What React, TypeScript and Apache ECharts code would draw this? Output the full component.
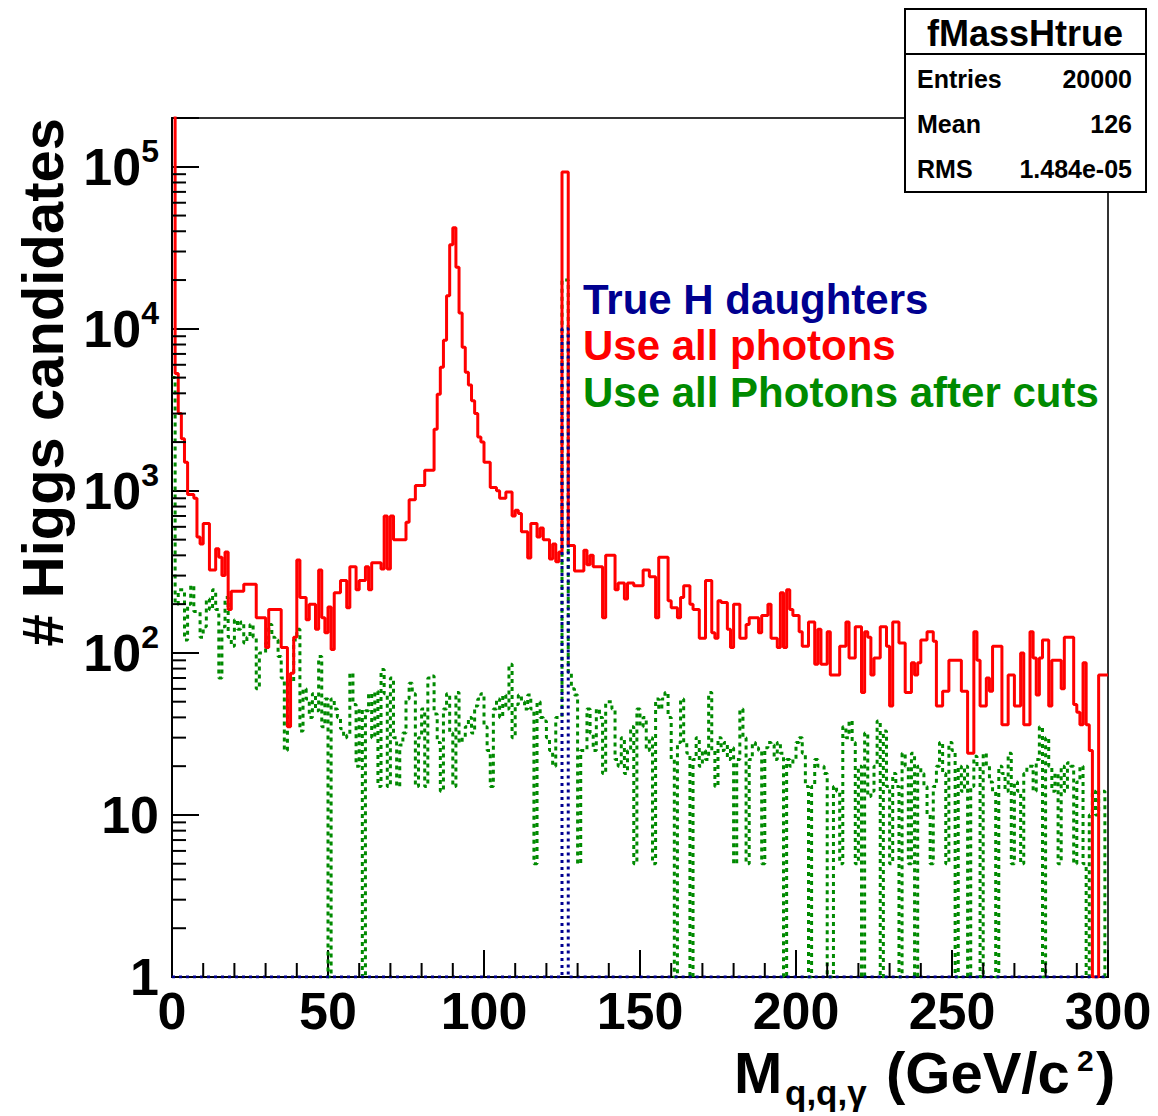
import React, { useEffect, useRef } from "react";
import * as echarts from "echarts";

// ---------------- data ----------------
const X_MIN = 0;
const X_MAX = 300;
const BIN_WIDTH = 1;
const Y_MIN = 1;
const Y_MAX = 200000;

const X_MAJOR_TICK_STEP = 50;
const X_MINOR_TICKS = [
  10, 20, 30, 40, 60, 70, 80, 90, 110, 120, 130, 140, 160, 170, 180, 190,
  210, 220, 230, 240, 260, 270, 280, 290,
];
const Y_MINOR_TICKS = [
  2, 3, 4, 5, 6, 7, 8, 9,
  20, 30, 40, 50, 60, 70, 80, 90,
  200, 300, 400, 500, 600, 700, 800, 900,
  2000, 3000, 4000, 5000, 6000, 7000, 8000, 9000,
  20000, 30000, 40000, 50000, 60000, 70000, 80000, 90000,
];

// "Use all photons" : counts per 1 GeV bin, 0..300
const RED_COUNTS = [
  300000, 5300, 3000, 2100, 1500, 950, 950, 900, 520, 470,
  630, 630, 325, 325, 440, 390, 300, 420, 185, 240,
  240, 240, 240, 265, 265, 265, 265, 165, 165, 165,
  108, 185, 185, 185, 185, 108, 108, 35, 75, 125,
  375, 220, 220, 160, 200, 200, 140, 325, 165, 133,
  192, 105, 235, 235, 280, 280, 190, 340, 340, 245,
  280, 280, 340, 245, 360, 360, 360, 330, 700, 330,
  700, 500, 500, 500, 500, 640, 880, 880, 1080, 1080,
  1080, 1340, 1340, 1340, 2400, 3950, 5800, 8500, 16000, 33000,
  42000, 24000, 12500, 7700, 5400, 4500, 3600, 3000, 2150, 2000,
  1500, 1500, 1050, 1050, 1000, 900, 900, 985, 985, 700,
  760, 725, 560, 560, 385, 630, 630, 520, 590, 500,
  500, 380, 470, 365, 420, 93000, 93000, 460, 460, 320,
  320, 320, 430, 350, 400, 340, 340, 340, 165, 400,
  400, 400, 245, 270, 270, 215, 270, 270, 260, 260,
  260, 325, 325, 295, 295, 165, 390, 390, 390, 210,
  190, 190, 165, 220, 260, 260, 200, 185, 185, 123,
  123, 280, 280, 133, 123, 210, 205, 205, 140, 108,
  200, 200, 123, 123, 150, 165, 165, 165, 133, 170,
  170, 200, 123, 123, 108, 235, 108, 245, 185, 170,
  170, 135, 110, 110, 155, 155, 85, 140, 85, 85,
  135, 73, 73, 73, 110, 110, 155, 93, 93, 145,
  145, 57, 135, 125, 73, 93, 93, 145, 145, 110,
  47, 155, 155, 115, 115, 57, 57, 87, 73, 87,
  120, 120, 135, 135, 118, 47, 47, 58, 58, 90,
  90, 90, 90, 58, 58, 24, 24, 135, 90, 47,
  47, 70, 58, 110, 110, 110, 36, 36, 73, 73,
  47, 47, 100, 36, 36, 135, 93, 55, 93, 120,
  120, 47, 90, 90, 90, 60, 125, 125, 125, 48,
  43, 36, 87, 36, 25, 0, 0, 73, 73, 73,
];

// "Use all Photons after cuts"
const GREEN_COUNTS = [
  5000, 200, 245, 245, 120, 200, 260, 180, 180, 125,
  145, 215, 185, 245, 185, 70, 145, 220, 125, 110,
  160, 140, 155, 115, 125, 150, 125, 60, 100, 100,
  115, 150, 125, 120, 95, 70, 25, 68, 66, 120,
  140, 33, 60, 52, 40, 56, 44, 95, 35, 52,
  0, 52, 45, 40, 34, 30, 31, 75, 48, 20,
  45, 0, 44, 56, 30, 58, 15, 79, 56, 15,
  70, 30, 15, 27, 32, 52, 65, 56, 15, 30,
  45, 15, 70, 72, 42, 28, 14, 45, 56, 32,
  15, 57, 28, 30, 35, 40, 32, 47, 52, 56,
  35, 25, 15, 45, 52, 40, 55, 45, 85, 30,
  48, 55, 50, 45, 55, 45, 5, 50, 40, 38,
  30, 25, 20, 40, 40, 20000, 20000, 76, 60, 55,
  5, 25, 25, 45, 32, 25, 45, 40, 18, 50,
  50, 45, 22, 20, 30, 18, 25, 35, 5, 45,
  35, 40, 25, 30, 5, 52, 45, 52, 57, 40,
  22, 0, 28, 52, 28, 24, 0, 22, 30, 20,
  25, 22, 57, 25, 15, 30, 25, 28, 22, 26,
  5, 22, 45, 30, 5, 22, 28, 26, 25, 5,
  26, 28, 27, 22, 28, 24, 0, 22, 20, 22,
  28, 30, 24, 15, 0, 15, 22, 20, 20, 18,
  0, 0, 15, 14, 5, 35, 30, 38, 28, 5,
  20, 0, 32, 13, 14, 20, 38, 0, 33, 15,
  5, 18, 15, 0, 24, 20, 5, 24, 0, 20,
  18, 15, 10, 5, 15, 20, 28, 18, 5, 28,
  25, 0, 20, 14, 20, 0, 15, 23, 20, 0,
  24, 20, 16, 14, 0, 20, 18, 14, 24, 5,
  16, 14, 5, 18, 20, 20, 14, 22, 35, 0,
  30, 20, 14, 18, 5, 20, 14, 21, 20, 5,
  16, 20, 5, 0, 10, 14, 10, 14, 14, 0,
];

// "True H daughters": empty everywhere except the peak bins
const BLUE_PEAK_BINS = [125, 126];
const BLUE_PEAK_COUNTS = [10000, 10000];

const STATS_TITLE = "fMassHtrue";
const STATS_ROWS = [
  ["Entries", "20000"],
  ["Mean", "126"],
  ["RMS", "1.484e-05"],
];

const LEGEND_TEXTS = ["True H daughters", "Use all photons", "Use all Photons after cuts"];

// ---------------- styles ----------------
const FONT = '"Liberation Sans", Arial, Helvetica, sans-serif';
const C_RED = "#ff0000";
const C_GREEN = "#008a00";
const C_BLUE = "#000090";

const GRID = { left: 172, top: 118, right: 1108, bottom: 977 };

function blueCounts(): number[] {
  const arr = RED_COUNTS.map(() => 0);
  BLUE_PEAK_BINS.forEach((b, k) => {
    arr[b] = BLUE_PEAK_COUNTS[k];
  });
  return arr;
}

// histogram outline as step points (empty bins sit on the frame bottom, like ROOT log plots)
function stepPoints(counts: number[]): number[][] {
  const pts: number[][] = [];
  counts.forEach((c, i) => {
    const v = c > Y_MIN ? c : Y_MIN;
    const x0 = X_MIN + i * BIN_WIDTH;
    pts.push([x0, v], [x0 + BIN_WIDTH, v]);
  });
  return pts;
}

function yLabel(v: number): string {
  const e = Math.round(Math.log10(v));
  if (Math.abs(v - Math.pow(10, e)) > 1e-6 * v) return "";
  if (e === 0) return "{b|1}";
  if (e === 1) return "{b|10}";
  return "{b|10}{s|" + e + "}";
}

export default function App() {
  const ref = useRef<HTMLDivElement>(null);

  useEffect(() => {
    if (!ref.current) return;
    const chart = echarts.init(ref.current, undefined, { renderer: "svg" });

    const statsGraphics: any[] = [
      {
        type: "rect",
        shape: { x: 905, y: 9, width: 241, height: 183 },
        style: { fill: "#fff", stroke: "#000", lineWidth: 2 },
      },
      {
        type: "line",
        shape: { x1: 905, y1: 54, x2: 1146, y2: 54 },
        style: { stroke: "#000", lineWidth: 2 },
      },
      {
        type: "text",
        x: 1025,
        y: 33,
        style: {
          text: STATS_TITLE,
          fontFamily: FONT,
          fontWeight: "bold",
          fontSize: 36,
          fill: "#000",
          align: "center",
          verticalAlign: "middle",
        },
      },
    ];
    STATS_ROWS.forEach((row, k) => {
      const y = 79 + k * 45;
      statsGraphics.push(
        {
          type: "text",
          x: 917,
          y,
          style: { text: row[0], fontFamily: FONT, fontWeight: "bold", fontSize: 25, fill: "#000", align: "left", verticalAlign: "middle" },
        },
        {
          type: "text",
          x: 1132,
          y,
          style: { text: row[1], fontFamily: FONT, fontWeight: "bold", fontSize: 25, fill: "#000", align: "right", verticalAlign: "middle" },
        }
      );
    });

    const legendColors = [C_BLUE, C_RED, C_GREEN];
    const legendGraphics = LEGEND_TEXTS.map((t, k) => ({
      type: "text",
      x: 583,
      y: 299 + k * 46.5,
      style: { text: t, fontFamily: FONT, fontWeight: "bold", fontSize: 42, fill: legendColors[k], align: "left", verticalAlign: "middle" },
    }));

    const titleStyle = { fontFamily: FONT, fontWeight: "bold", fill: "#000", align: "left", verticalAlign: "middle" };
    const xTitle = [
      { type: "text", x: 734, y: 1072, style: { ...titleStyle, text: "M", fontSize: 58 } },
      { type: "text", x: 785, y: 1092, style: { ...titleStyle, text: "q,q,γ", fontSize: 35 } },
      { type: "text", x: 886, y: 1072, style: { ...titleStyle, text: "(GeV/c", fontSize: 58 } },
      { type: "text", x: 1077, y: 1060, style: { ...titleStyle, text: "2", fontSize: 30 } },
      { type: "text", x: 1096, y: 1072, style: { ...titleStyle, text: ")", fontSize: 58 } },
    ];

    const yTitle = {
      type: "text",
      x: 42,
      y: 118,
      rotation: Math.PI / 2,
      style: { ...titleStyle, text: "# Higgs candidates", fontSize: 58, align: "right" },
    };

    const option: any = {
      animation: false,
      backgroundColor: "#fff",
      grid: {
        left: GRID.left,
        top: GRID.top,
        width: GRID.right - GRID.left,
        height: GRID.bottom - GRID.top,
        containLabel: false,
        outerBoundsMode: "none",
        show: true,
        borderColor: "#333",
        borderWidth: 2,
        backgroundColor: "transparent",
      },
      xAxis: {
        type: "value",
        min: X_MIN,
        max: X_MAX,
        interval: X_MAJOR_TICK_STEP,
        splitLine: { show: false },
        axisLine: { show: true, onZero: false, lineStyle: { color: "#000", width: 2 } },
        axisTick: { show: true, inside: true, length: 27, lineStyle: { color: "#000", width: 2 } },
        minorTick: { show: false },
        axisLabel: {
          show: true,
          margin: 8,
          color: "#000",
          fontFamily: FONT,
          fontWeight: "bold",
          fontSize: 52,
          showMinLabel: true,
          showMaxLabel: true,
          hideOverlap: false,
        },
      },
      yAxis: {
        type: "log",
        logBase: 10,
        min: Y_MIN,
        max: Y_MAX,
        splitLine: { show: false },
        axisLine: { show: true, onZero: false, lineStyle: { color: "#000", width: 2 } },
        axisTick: { show: true, inside: true, length: 27, lineStyle: { color: "#000", width: 2 } },
        minorTick: { show: false },
        axisLabel: {
          show: true,
          margin: 13,
          color: "#000",
          formatter: yLabel,
          showMinLabel: true,
          showMaxLabel: true,
          hideOverlap: false,
          rich: {
            b: { fontFamily: FONT, fontWeight: "bold", fontSize: 52, color: "#000", lineHeight: 64, verticalAlign: "bottom", padding: [0, 0, 6, 0] },
            s: { fontFamily: FONT, fontWeight: "bold", fontSize: 32, color: "#000", lineHeight: 30, verticalAlign: "top" },
          },
        },
      },
      series: [
        {
          name: LEGEND_TEXTS[2],
          type: "line",
          data: stepPoints(GREEN_COUNTS),
          showSymbol: false,
          symbol: "none",
          z: 3,
          lineStyle: { color: C_GREEN, width: 3, type: [4, 4], cap: "butt" },
        },
        {
          name: LEGEND_TEXTS[1],
          type: "line",
          data: stepPoints(RED_COUNTS),
          showSymbol: false,
          symbol: "none",
          z: 4,
          lineStyle: { color: C_RED, width: 3 },
        },
        {
          name: LEGEND_TEXTS[0],
          type: "line",
          data: stepPoints(blueCounts()),
          showSymbol: false,
          symbol: "none",
          z: 5,
          lineStyle: { color: C_BLUE, width: 3, type: [3, 4], cap: "butt" },
        },
        {
          type: "custom",
          silent: true,
          z: 6,
          clip: false,
          data: Y_MINOR_TICKS.map((v) => [X_MIN, v]),
          renderItem: (_p: any, api: any) => {
            const p = api.coord([api.value(0), api.value(1)]);
            return {
              type: "line",
              shape: { x1: p[0], y1: p[1], x2: p[0] + 14, y2: p[1] },
              style: { stroke: "#000", lineWidth: 2 },
            };
          },
        },
        {
          type: "custom",
          silent: true,
          z: 6,
          clip: false,
          data: X_MINOR_TICKS.map((v) => [v, Y_MIN]),
          renderItem: (_p: any, api: any) => {
            const p = api.coord([api.value(0), api.value(1)]);
            return {
              type: "line",
              shape: { x1: p[0], y1: p[1], x2: p[0], y2: p[1] - 14 },
              style: { stroke: "#000", lineWidth: 2 },
            };
          },
        },
      ],
      graphic: [
        { type: "group", z: 100, children: statsGraphics },
        { type: "group", z: 90, children: legendGraphics },
        { type: "group", z: 90, children: [...xTitle, yTitle] },
      ],
    };

    chart.setOption(option);
    return () => {
      chart.dispose();
    };
  }, []);

  return (
    <div
      ref={ref}
      style={{ position: "fixed", left: 0, top: 0, width: 1158, height: 1116, background: "#fff" }}
    />
  );
}
